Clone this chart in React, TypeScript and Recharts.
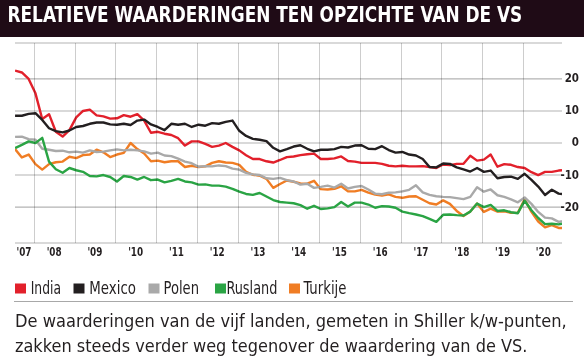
import React from "react";
import { LineChart, Line, XAxis, YAxis, CartesianGrid } from "recharts";

const months = [
  "2007-07", "2007-09", "2007-11",
  "2008-01", "2008-03", "2008-05", "2008-07", "2008-09", "2008-11",
  "2009-01", "2009-03", "2009-05", "2009-07", "2009-09", "2009-11",
  "2010-01", "2010-03", "2010-05", "2010-07", "2010-09", "2010-11",
  "2011-01", "2011-03", "2011-05", "2011-07", "2011-09", "2011-11",
  "2012-01", "2012-03", "2012-05", "2012-07", "2012-09", "2012-11",
  "2013-01", "2013-03", "2013-05", "2013-07", "2013-09", "2013-11",
  "2014-01", "2014-03", "2014-05", "2014-07", "2014-09", "2014-11",
  "2015-01", "2015-03", "2015-05", "2015-07", "2015-09", "2015-11",
  "2016-01", "2016-03", "2016-05", "2016-07", "2016-09", "2016-11",
  "2017-01", "2017-03", "2017-05", "2017-07", "2017-09", "2017-11",
  "2018-01", "2018-03", "2018-05", "2018-07", "2018-09", "2018-11",
  "2019-01", "2019-03", "2019-05", "2019-07", "2019-09", "2019-11",
  "2020-01", "2020-03", "2020-05", "2020-07", "2020-09", "2020-11",
  "2020-12",
];

const india = [
  22.6, 22.0, 20.0,
  15.5, 7.5, 9.0, 3.5, 2.0, 4.0,
  8.0, 10.0, 10.4, 8.6, 8.3, 7.6,
  7.7, 8.7, 8.2, 9.0, 7.0, 3.2,
  3.5, 2.9, 2.5, 1.5, -0.8, 0.5,
  0.5, -0.3, -1.2, -0.8, 0.0, -1.2,
  -2.3, -3.8, -5.0, -5.0, -5.7, -6.1,
  -5.3, -4.4, -4.2, -3.8, -3.5, -3.3,
  -5.0, -5.0, -4.8, -4.2, -5.6, -5.8,
  -6.2, -6.2, -6.2, -6.5, -7.1, -7.3,
  -7.1, -7.3, -7.3, -7.2, -7.5, -7.8,
  -6.7, -6.9, -6.5, -6.5, -4.0, -5.5,
  -5.2, -3.6, -7.4, -6.6, -6.8, -7.5,
  -7.8, -9.1, -10.0, -9.0, -9.0, -8.6,
  -8.5,
];

const mexico = [
  8.5, 8.5, 9.1,
  9.3, 7.2, 4.6, 3.7, 3.3, 3.9,
  5.0, 5.3, 6.0, 6.4, 6.4, 5.8,
  5.7, 6.0, 5.6, 7.0, 7.3, 5.8,
  5.0, 4.0, 6.0, 5.7, 6.0, 5.0,
  5.7, 5.4, 6.2, 6.0, 6.6, 7.0,
  3.8, 2.2, 1.3, 1.0, 0.6, -1.5,
  -2.6, -1.9, -1.1, -0.7, -1.8, -2.6,
  -2.1, -2.1, -1.9, -1.2, -1.4, -0.8,
  -0.7, -1.8, -1.9, -1.0, -2.2, -3.0,
  -2.8, -3.6, -3.9, -5.0, -7.5, -7.6,
  -6.4, -6.5, -7.6, -8.2, -8.9, -7.8,
  -9.0, -8.6, -11.0, -10.6, -10.5, -11.2,
  -9.6, -11.5, -13.6, -16.2, -14.6, -15.8,
  -15.9,
];

const polen = [
  1.9, 2.0, 1.2,
  1.0, -1.8, -2.1, -2.5, -2.4, -2.9,
  -2.7, -3.0, -2.3, -2.8, -2.7, -2.3,
  -2.0, -2.3, -2.1, -2.3, -2.6, -3.3,
  -3.0, -3.9, -4.1, -4.9, -5.8, -6.3,
  -7.4, -7.2, -7.3, -7.0, -7.2, -8.0,
  -8.3, -9.3, -9.8, -10.0, -11.0, -11.2,
  -10.9, -11.6, -12.0, -13.0, -12.7, -14.0,
  -13.7, -13.3, -13.9, -12.7, -14.2, -13.7,
  -13.4, -14.5, -15.8, -16.0, -15.5, -15.4,
  -15.1, -14.6, -13.2, -15.4, -16.2, -16.6,
  -16.8, -16.9, -17.2, -17.5, -16.8, -13.8,
  -15.2, -14.5, -16.3, -16.8, -17.6, -18.5,
  -17.0, -19.0, -21.5, -23.3, -23.5, -24.6,
  -24.4,
];

const rusland = [
  -1.6, -0.6, 0.5,
  0.0, 1.6, -5.8, -8.2, -9.3, -7.8,
  -8.5, -9.0, -10.3, -10.4, -10.0, -10.6,
  -12.0, -10.3, -10.6, -11.4, -10.6, -11.6,
  -11.4, -12.3, -11.8, -11.2, -12.0, -12.3,
  -13.0, -12.9, -13.3, -13.3, -13.6, -14.3,
  -15.2, -15.9, -16.2, -15.6, -16.7, -17.8,
  -18.4, -18.6, -18.8, -19.4, -20.5, -19.6,
  -20.6, -20.4, -20.0, -18.4, -19.8, -18.6,
  -18.6, -19.2, -20.2, -19.7, -19.8, -20.2,
  -21.4, -21.9, -22.3, -22.8, -23.7, -24.6,
  -22.4, -22.3, -22.5, -22.6, -21.4, -18.9,
  -20.0, -19.3, -21.2, -21.0, -21.6, -21.9,
  -18.0, -21.0, -23.4, -25.3, -25.2, -25.4,
  -25.2,
];

const turkije = [
  -1.9, -4.5, -3.6,
  -6.6, -8.3, -6.6, -6.0, -5.8, -4.3,
  -4.7, -3.8, -3.6, -2.1, -2.9, -4.4,
  -3.6, -3.1, 0.0, -1.9, -3.3, -5.7,
  -5.5, -6.0, -5.7, -5.7, -7.5, -7.1,
  -7.5, -7.3, -6.2, -5.7, -6.1, -6.2,
  -6.8, -9.0, -9.9, -10.2, -11.2, -14.0,
  -12.8, -11.7, -12.1, -12.6, -12.7, -11.8,
  -14.4, -14.5, -14.3, -13.5, -15.1, -15.1,
  -14.6, -15.5, -16.1, -16.4, -16.0, -16.8,
  -17.1, -16.7, -16.6, -17.7, -18.8, -19.2,
  -17.9, -19.0, -21.2, -22.8, -21.4, -18.9,
  -21.5, -20.5, -21.4, -21.3, -21.8, -21.8,
  -17.6, -21.5, -24.5, -26.3, -25.6, -26.5,
  -26.5,
];

const seriesNames = ["India", "Mexico", "Polen", "Rusland", "Turkije"];
const seriesKeys = ["india", "mexico", "polen", "rusland", "turkije"];
const seriesColors = ["#e2202b", "#231f20", "#a9a9a9", "#2aa444", "#f07d24"];
const drawOrder = ["turkije", "india", "mexico", "polen", "rusland"];

const yearGrid = [2008, 2009, 2010, 2011, 2012, 2013, 2014, 2015, 2016, 2017, 2018, 2019, 2020];
const yearLabels = ["'07", "'08", "'09", "'10", "'11", "'12", "'13", "'14", "'15", "'16", "'17", "'18", "'19", "'20"];
const yearLabelAt = [2007.76, 2008.5, 2009.5, 2010.5, 2011.5, 2012.5, 2013.5, 2014.5, 2015.5, 2016.5, 2017.5, 2018.5, 2019.5, 2020.5];
const yTicks = [-20, -10, 0, 10, 20];
const xDomain: [number, number] = [2007.54, 2020.958];

const titleText = "RELATIEVE WAARDERINGEN TEN OPZICHTE VAN DE VS";
const captionLines = [
  "De waarderingen van de vijf landen, gemeten in Shiller k/w-punten,",
  "zakken steeds verder weg tegenover de waardering van de VS.",
];

const toYear = (s: string) => {
  const [y, m] = s.split("-").map(Number);
  return y + (m - 0.5) / 12;
};

const data = months.map((m, i) => ({
  t: toYear(m),
  india: india[i],
  mexico: mexico[i],
  polen: polen[i],
  rusland: rusland[i],
  turkije: turkije[i],
}));

// plot geometry (chart margins / axis sizes)
const CHART_W = 584;
const CHART_H = 262;
const M_LEFT = 15;
const M_TOP = 43;
const Y_AXIS_W = 22;
const X_AXIS_H = 19;
const PLOT_W = CHART_W - M_LEFT - Y_AXIS_W;
const PLOT_H = CHART_H - M_TOP - X_AXIS_H;
const xPix = (v: number) => Math.round(M_LEFT + ((v - xDomain[0]) / (xDomain[1] - xDomain[0])) * PLOT_W) + 0.5;

const NARROW = '"Liberation Sans Narrow", "DejaVu Sans Condensed", "Arial Narrow", "Liberation Sans", sans-serif';
const INK = "#231f20";

const labelFor = (v: number) => {
  const i = yearLabelAt.findIndex((p) => Math.abs(p - v) < 0.01);
  return i >= 0 ? yearLabels[i] : "";
};

// Text squeezed horizontally to a measured target width (condensed look)
const FitText = (props: any) => {
  const { x, y, width, children, ...rest } = props;
  const ref = React.useRef<SVGTextElement>(null);
  const [s, setS] = React.useState(1);
  React.useLayoutEffect(() => {
    if (ref.current) {
      const w = ref.current.getComputedTextLength();
      if (w > 0) setS(width / w);
    }
  }, [width]);
  return (
    <text ref={ref} x={0} y={0} transform={`translate(${x},${y}) scale(${s},1)`} {...rest}>
      {children}
    </text>
  );
};

const XTick = (props: any) => {
  const { x, y, payload } = props;
  const label = labelFor(payload.value);
  return (
    <FitText x={x - 7.5} y={y + 13} width={15} fontFamily={NARROW} fontWeight={700} fontSize={13} fill={INK}>
      {label}
    </FitText>
  );
};

const YTick = (props: any) => {
  const { x, y, payload } = props;
  return (
    <text x={x + 17} y={y + 3.5} textAnchor="end" fontFamily={NARROW} fontWeight={700} fontSize={13} fill={INK} transform={`translate(${(x + 17) * 0.12},0) scale(0.88,1)`}>
      {payload.value}
    </text>
  );
};

const legendLayout = [
  { sq: 15, tx: 30.7, w: 30.3 },
  { sq: 73.5, tx: 89.3, w: 46.7 },
  { sq: 148.5, tx: 163.5, w: 35.5 },
  { sq: 215, tx: 226.4, w: 51 },
  { sq: 289, tx: 303.5, w: 43 },
];

export default function App() {
  return (
    <div style={{ position: "absolute", left: 0, top: 0, width: 584, height: 361, background: "#fff", overflow: "hidden", isolation: "isolate" }}>
      <div style={{ position: "absolute", left: 0, top: 0 }}>
        <LineChart width={CHART_W} height={CHART_H} data={data} margin={{ top: M_TOP, right: 0, bottom: 0, left: M_LEFT }}>
          <CartesianGrid vertical={false} stroke="#b3b3b3" strokeWidth={1.1} />
          <XAxis
            dataKey="t"
            type="number"
            domain={xDomain}
            ticks={yearLabelAt}
            tick={<XTick />}
            axisLine={false}
            tickLine={false}
            tickSize={0}
            tickMargin={0}
            height={X_AXIS_H}
            interval={0}
            allowDataOverflow
          />
          <YAxis
            orientation="right"
            type="number"
            domain={[-31.2, 31.2]}
            ticks={yTicks}
            tick={<YTick />}
            axisLine={false}
            tickLine={false}
            tickSize={0}
            tickMargin={0}
            width={Y_AXIS_W}
            interval={0}
            allowDataOverflow
          />
          {drawOrder.map((k) => {
            const idx = seriesKeys.indexOf(k);
            return (
              <Line
                key={k}
                dataKey={k}
                name={seriesNames[idx]}
                type="linear"
                stroke={seriesColors[idx]}
                strokeWidth={2.4}
                strokeLinejoin="round"
                dot={false}
                activeDot={false}
                isAnimationActive={false}
              />
            );
          })}
        </LineChart>
      </div>
      <svg width={CHART_W} height={CHART_H} style={{ position: "absolute", left: 0, top: 0, pointerEvents: "none", mixBlendMode: "multiply" }}>
        {yearGrid.map((yr) => (
          <line key={yr} x1={xPix(yr)} x2={xPix(yr)} y1={M_TOP} y2={M_TOP + PLOT_H} stroke="#cdcdcd" strokeWidth={1} />
        ))}
      </svg>
      <svg width={584} height={361} style={{ position: "absolute", left: 0, top: 0, pointerEvents: "none" }}>
        <rect x={0} y={0} width={584} height={37} fill="#1f0b16" />
        <FitText x={7.5} y={22} width={515} fill="#ffffff" fontFamily={NARROW} fontWeight={700} fontSize={22}>
          {titleText}
        </FitText>
        {seriesNames.map((n, i) => (
          <g key={n}>
            <rect x={legendLayout[i].sq} y={283.5} width={11} height={10} fill={seriesColors[i]} />
            <FitText x={legendLayout[i].tx} y={294} width={legendLayout[i].w} fill={INK} fontFamily={NARROW} fontSize={17}>
              {n}
            </FitText>
          </g>
        ))}
        <line x1={14} x2={573} y1={301.5} y2={301.5} stroke="#a8a8a8" strokeWidth={1} />
        <FitText x={15} y={327} width={552} fill={INK} fontFamily={NARROW} fontSize={18.5}>
          {captionLines[0]}
        </FitText>
        <FitText x={15} y={352} width={513} fill={INK} fontFamily={NARROW} fontSize={18.5}>
          {captionLines[1]}
        </FitText>
      </svg>
    </div>
  );
}
